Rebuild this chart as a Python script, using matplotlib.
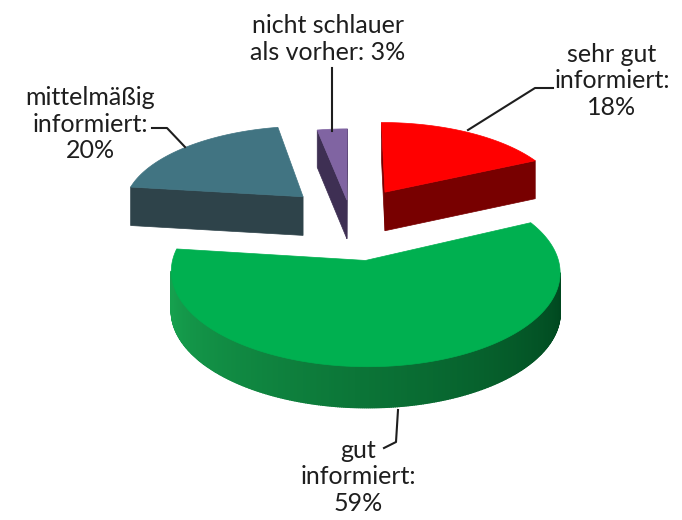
import numpy as np
import matplotlib.pyplot as plt
from matplotlib.patches import Polygon
from matplotlib.colors import to_rgb

# data (clockwise from 12 o'clock)
names = ['sehr gut\ninformiert:', 'gut\ninformiert:', 'mittelmäßig\ninformiert:', 'nicht schlauer\nals vorher:']
values = [18, 59, 20, 3]
top_colors = ['#FF0000', '#00B050', '#417482', '#8064A2']
side_colors = ['#780000', '#0E8A43', '#2E434A', '#3E2F53']
explode = [0.367, 0.5, 0.367, 0.21]

# label placement (text centre, leader line points)
label_pos = [(612, 81), (358, 477), (90, 124), (328, 39)]
leaders = [
    [(553, 88), (535, 88), (468, 130)],
    [(398, 410), (396, 442), (384, 448)],
    [(152, 128), (167, 128), (185, 147)],
    [(332, 68), (332, 131)],
]

W, H = 682, 520
cx, cy = 350.4, 217
rx, ry = 182, 83
persp = 0.115
thick = 39
cam = np.array([0.0, -1.0 / persp])


def proj(x, y, z=0):
    g = 1.0 / (1.0 + persp * y)
    return (cx + rx * x * g, cy - ry * y * g + thick * z * (1 - 0.035 * y))


def mix(c1, c2, t):
    a, b = np.array(to_rgb(c1)), np.array(to_rgb(c2))
    return tuple(a + (b - a) * t)


fig = plt.figure(figsize=(W / 100, H / 100), dpi=100)
ax = fig.add_axes([0, 0, 1, 1])
ax.set_xlim(0, W)
ax.set_ylim(H, 0)
ax.axis('off')

total = sum(values)
bounds = np.concatenate([[0], np.cumsum(values)]) / total * 360

slices = []
for i in range(len(values)):
    t0, t1 = bounds[i], bounds[i + 1]
    m = np.radians((t0 + t1) / 2)
    o = np.array([np.sin(m), np.cos(m)]) * explode[i]
    slices.append((i, t0, t1, o))

# farthest first
slices.sort(key=lambda s: -s[3][1])


def visible(n, p):
    return np.dot(n, cam - p) > 0


for i, t0, t1, o in slices:
    # radial walls
    for th, sign in [(t0, -1), (t1, 1)]:
        r = np.radians(th)
        n = sign * np.array([np.cos(r), -np.sin(r)])
        if visible(n, o):
            e = o + np.array([np.sin(r), np.cos(r)])
            quad = [proj(*o), proj(*e), proj(*e, 1), proj(*o, 1)]
            ax.add_patch(Polygon(quad, closed=True, fc=side_colors[i],
                                 ec=side_colors[i], lw=0.5))
    # outer wall, small pieces
    angs = np.linspace(t0, t1, int(max(8, (t1 - t0) * 2)))
    for a0, a1 in zip(angs[:-1], angs[1:]):
        am = np.radians((a0 + a1) / 2)
        n = np.array([np.sin(am), np.cos(am)])
        p = o + n
        if not visible(n, p):
            continue
        q0 = o + np.array([np.sin(np.radians(a0)), np.cos(np.radians(a0))])
        q1 = o + np.array([np.sin(np.radians(a1)), np.cos(np.radians(a1))])
        if i == 1:
            t = np.clip((np.degrees(am) - 103) / (257 - 103), 0, 1)
            col = mix('#00471F', '#16A04E', t)
        else:
            col = side_colors[i]
        quad = [proj(*q0), proj(*q1), proj(*q1, 1), proj(*q0, 1)]
        ax.add_patch(Polygon(quad, closed=True, fc=col, ec=col, lw=1.0))
    # top face
    face = [proj(*o)]
    for a in np.linspace(t0, t1, 200):
        r = np.radians(a)
        face.append(proj(*(o + np.array([np.sin(r), np.cos(r)]))))
    ax.add_patch(Polygon(face, closed=True, fc=top_colors[i],
                         ec=top_colors[i], lw=0.5))

for i in range(len(values)):
    if i == 3:
        txt = names[i] + ' %d%%' % values[i]
    else:
        txt = names[i] + '\n%d%%' % values[i]
    ax.text(label_pos[i][0], label_pos[i][1], txt, ha='center', va='center',
            multialignment='center', fontsize=18, family='Lato',
            color='#1e1e1e', linespacing=1.2)
    xs, ys = zip(*leaders[i])
    ax.plot(xs, ys, color='#1e1e1e', lw=1.5, solid_joinstyle='round')

fig.savefig('out.png', dpi=100)
